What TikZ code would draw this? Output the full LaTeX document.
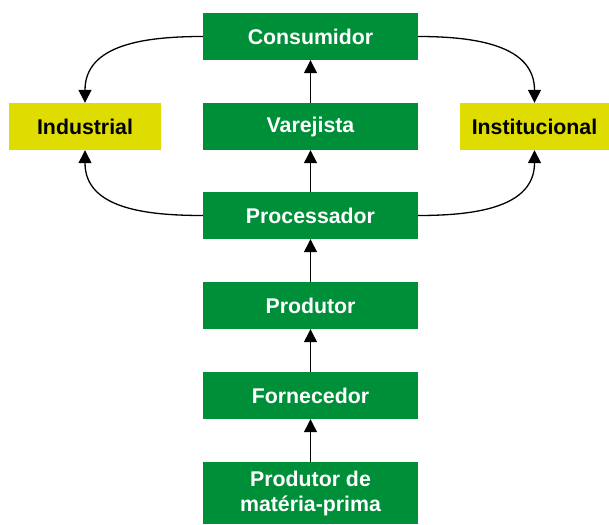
\documentclass[tikz,border=0pt]{standalone}
\usepackage{fontspec}
\setmainfont{Liberation Sans}
\usetikzlibrary{arrows.meta}
\definecolor{boxgreen}{RGB}{0,143,57}
\definecolor{boxyellow}{RGB}{222,220,0}
\tikzset{
  gbox/.style={fill=boxgreen, text=white, minimum width=215pt, minimum height=47pt, inner sep=0pt,
    font=\fontsize{21.3}{25}\selectfont\bfseries, align=center},
  ybox/.style={fill=boxyellow, text=black, minimum height=47pt, inner sep=0pt,
    font=\fontsize{21.3}{25}\selectfont\bfseries},
  conn/.style={line width=1.3pt, -{Triangle[length=13pt,width=13pt]}}
}
\begin{document}
\begin{tikzpicture}[x=1pt,y=-1pt]
\useasboundingbox (0,0) rectangle (609,524);
\node[gbox] (cons) at (310.5,36.5) {Consumidor};
\node[gbox] (var) at (310.5,126.5) {Varejista};
\node[gbox] (proc) at (310.5,215.5) {Processador};
\node[gbox] (prod) at (310.5,305.5) {Produtor};
\node[gbox] (forn) at (310.5,395.5) {Fornecedor};
\node[gbox, minimum height=62pt] (mp) at (310.5,493) {Produtor de\\matéria-prima};
\node[ybox, minimum width=152pt] (ind) at (85,126.5) {Industrial};
\node[ybox, minimum width=149pt] (inst) at (534.5,126.5) {Institucional};
\draw[conn] (mp) -- (forn);
\draw[conn] (forn) -- (prod);
\draw[conn] (prod) -- (proc);
\draw[conn] (proc) -- (var);
\draw[conn] (var) -- (cons);
\draw[conn] (cons.west) to[out=180,in=90,looseness=1.1] (ind.north);
\draw[conn] (proc.west) to[out=180,in=-90,looseness=1.1] (ind.south);
\draw[conn] (cons.east) to[out=0,in=90,looseness=1.1] (inst.north);
\draw[conn] (proc.east) to[out=0,in=-90,looseness=1.1] (inst.south);
\end{tikzpicture}
\end{document}
